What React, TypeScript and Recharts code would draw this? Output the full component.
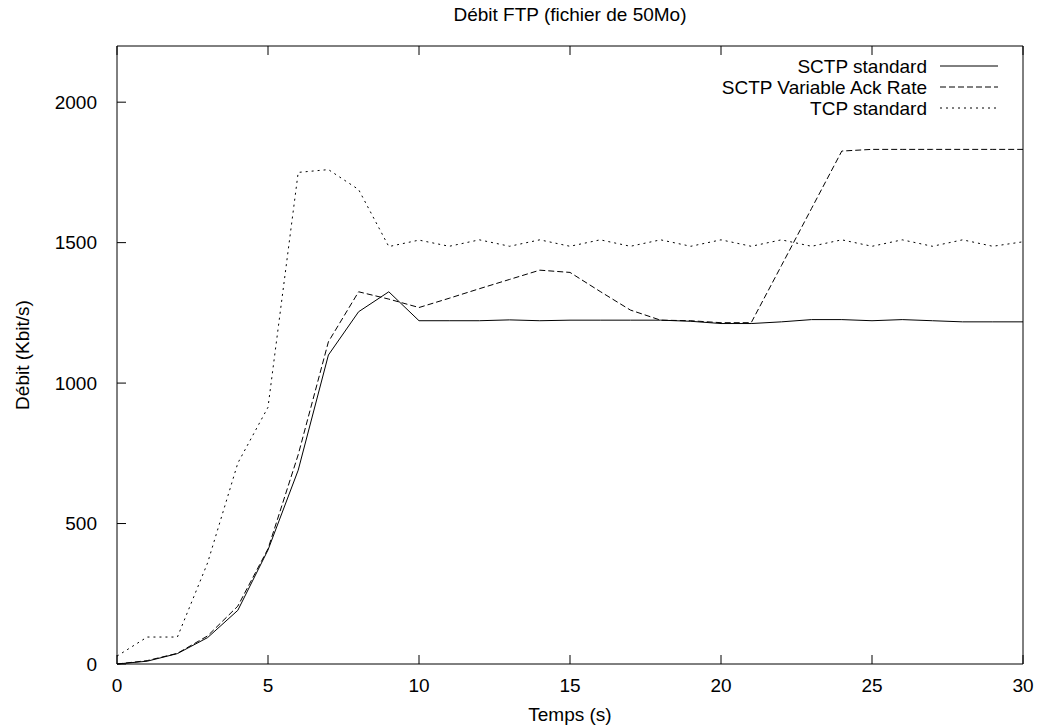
import React from 'react';
import { LineChart, Line, XAxis, YAxis, Legend, Label } from 'recharts';

// temps (s)
const TIME = [0, 1, 2, 3, 4, 5, 6, 7, 8, 9, 10, 11, 12, 13, 14, 15, 16, 17, 18, 19, 20, 21, 22, 23, 24, 25, 26, 27, 28, 29, 30];

// débit (Kbit/s)
const SCTP_STANDARD = [0, 10, 37, 94, 191, 406, 690, 1100, 1254, 1325, 1222, 1222, 1222, 1225, 1222, 1224, 1224, 1224, 1224, 1220, 1212, 1212, 1218, 1226, 1226, 1222, 1226, 1222, 1218, 1218, 1218];
const SCTP_VAR_ACK = [0, 12, 38, 100, 206, 410, 745, 1147, 1325, 1299, 1269, 1302, 1336, 1369, 1402, 1394, 1326, 1260, 1224, 1222, 1215, 1215, 1418, 1622, 1826, 1832, 1832, 1832, 1832, 1832, 1832];
const TCP_STANDARD = [28, 96, 96, 360, 715, 914, 1750, 1760, 1689, 1486, 1509, 1487, 1510, 1487, 1510, 1487, 1510, 1487, 1510, 1487, 1510, 1487, 1510, 1487, 1510, 1487, 1510, 1487, 1510, 1487, 1503];

const X_TICKS = [0, 5, 10, 15, 20, 25, 30];
const Y_TICKS = [0, 500, 1000, 1500, 2000];

const SERIES = [
  { key: 'sctp', name: 'SCTP standard', dash: undefined },
  { key: 'sctpVar', name: 'SCTP Variable Ack Rate', dash: '6 3' },
  { key: 'tcp', name: 'TCP standard', dash: '2 4' },
];

const data = TIME.map((t, i) => ({
  t,
  sctp: SCTP_STANDARD[i],
  sctpVar: SCTP_VAR_ACK[i],
  tcp: TCP_STANDARD[i],
}));

const FONT = '"Liberation Sans", Arial, sans-serif';
const TICK_LEN = 9;

const BottomTick = ({ x, y, payload }: any) => (
  <g>
    <line x1={x} y1={y} x2={x} y2={y - TICK_LEN} stroke="#000" />
    <text x={x} y={y + 28} textAnchor="middle" fontSize={19} fontFamily={FONT} fill="#000">
      {payload.value}
    </text>
  </g>
);

const TopTick = ({ x, y }: any) => <line x1={x} y1={y} x2={x} y2={y + TICK_LEN} stroke="#000" />;

const LeftTick = ({ x, y, payload }: any) => (
  <g>
    <line x1={x} y1={y} x2={x + TICK_LEN} y2={y} stroke="#000" />
    <text x={x - 20} y={y} dy="0.36em" textAnchor="end" fontSize={19} fontFamily={FONT} fill="#000">
      {payload.value}
    </text>
  </g>
);

const RightTick = ({ x, y }: any) => <line x1={x} y1={y} x2={x - TICK_LEN} y2={y} stroke="#000" />;

const renderLegend = () => (
  <svg width={410} height={70} style={{ overflow: 'visible' }}>
    {SERIES.map((s, i) => (
      <g key={s.key}>
        <text x={327} y={23 + i * 21} textAnchor="end" fontSize={19} fontFamily={FONT} fill="#000">
          {s.name}
        </text>
        <line x1={340} x2={398} y1={16 + i * 21} y2={16 + i * 21} stroke="#000" strokeDasharray={s.dash} />
      </g>
    ))}
  </svg>
);

export default function App() {
  return (
    <div style={{ position: 'absolute', left: 0, top: 0, background: '#fff' }}>
      <LineChart width={1041} height={728} data={data} margin={{ top: 0, right: 0, bottom: 0, left: 0 }}>
        <XAxis
          dataKey="t"
          type="number"
          domain={[0, 30]}
          ticks={X_TICKS}
          height={64}
          tickSize={0}
          tickMargin={0}
          tick={BottomTick}
          tickLine={false}
          axisLine={{ stroke: '#000' }}
        >
          <Label
            content={({ viewBox }: any) => (
              <text x={viewBox.x + viewBox.width / 2} y={viewBox.y + 57} textAnchor="middle" fontSize={19} fontFamily={FONT} fill="#000">
                Temps (s)
              </text>
            )}
          />
        </XAxis>
        <XAxis
          xAxisId="top"
          dataKey="t"
          type="number"
          orientation="top"
          domain={[0, 30]}
          ticks={X_TICKS}
          height={46}
          tickSize={0}
          tickMargin={0}
          tick={TopTick}
          tickLine={false}
          axisLine={{ stroke: '#000' }}
        >
          <Label
            content={({ viewBox }: any) => (
              <text x={viewBox.x + viewBox.width / 2} y={21} textAnchor="middle" fontSize={19} fontFamily={FONT} fill="#000">
                Débit FTP (fichier de 50Mo)
              </text>
            )}
          />
        </XAxis>
        <YAxis
          type="number"
          domain={[0, 2200]}
          ticks={Y_TICKS}
          width={117}
          tickSize={0}
          tickMargin={0}
          tick={LeftTick}
          tickLine={false}
          axisLine={{ stroke: '#000' }}
        >
          <Label
            content={({ viewBox }: any) => {
              const cx = 22;
              const cy = viewBox.y + viewBox.height / 2;
              return (
                <text x={cx} y={cy} transform={`rotate(-90 ${cx} ${cy})`} textAnchor="middle" dy="0.36em" fontSize={19} fontFamily={FONT} fill="#000">
                  Débit (Kbit/s)
                </text>
              );
            }}
          />
        </YAxis>
        <YAxis
          yAxisId="right"
          type="number"
          orientation="right"
          domain={[0, 2200]}
          ticks={Y_TICKS}
          width={18}
          tickSize={0}
          tickMargin={0}
          tick={RightTick}
          tickLine={false}
          axisLine={{ stroke: '#000' }}
        />
        <Legend
          layout="horizontal"
          verticalAlign="middle"
          align="center"
          wrapperStyle={{ left: 600, top: 50, width: 410, height: 70 }}
          content={renderLegend}
        />
        {SERIES.map((s) => (
          <Line
            key={s.key}
            dataKey={s.key}
            name={s.name}
            type="linear"
            stroke="#000"
            strokeWidth={1}
            strokeDasharray={s.dash}
            dot={false}
            activeDot={false}
            isAnimationActive={false}
          />
        ))}
      </LineChart>
    </div>
  );
}
